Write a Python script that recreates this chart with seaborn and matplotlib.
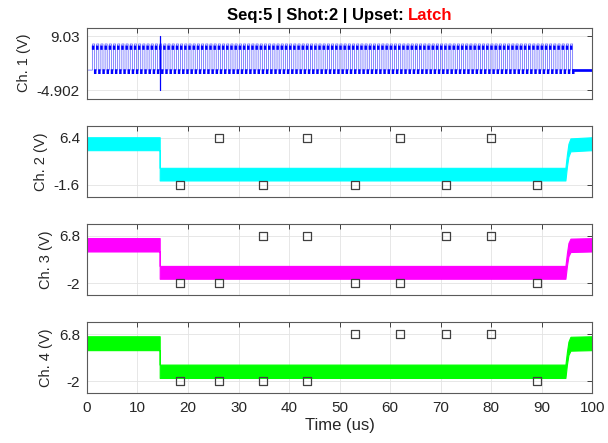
import numpy as np
import pandas as pd
import matplotlib
matplotlib.use("Agg")
import matplotlib.pyplot as plt
import seaborn as sns

# ---------------- data ----------------
time_ticks = [0, 10, 20, 30, 40, 50, 60, 70, 80, 90, 100]
channel_labels = ["Ch. 1 (V)", "Ch. 2 (V)", "Ch. 3 (V)", "Ch. 4 (V)"]
channel_colors = ["#0000ff", "#00ffff", "#ff00ff", "#00ff00"]
ytick_values = [[-4.902, 9.03], [-1.6, 6.4], [-2.0, 6.8], [-2.0, 6.8]]
ytick_labels = [["-4.902", "9.03"], ["-1.6", "6.4"], ["-2", "6.8"], ["-2", "6.8"]]

# Ch. 1 clock trace parameters
clk_start = 1.1        # first rising edge (us)
clk_period = 0.83      # us
clk_count = 115        # number of pulses
clk_high = 7.0         # top of each pulse
clk_low = 0.3          # bottom level
ring_high = [5.5, 6.6] # ringing blob just after each rising edge
ring_low = [-0.7, 0.5] # ringing blob just after each falling edge
spike_time = 14.4
spike_min = -4.902
spike_max = 9.03
ch1_tail_t = [96.1, 100.0]
ch1_tail_lo = [0.0, 0.0]
ch1_tail_hi = [0.7, 0.7]

# Ch. 2-4 noisy band envelopes (time, lower, upper)
band_t = [0.0, 14.4, 14.4, 94.7, 95.0, 95.3, 95.7, 100.0]
ch2_lo = [4.3, 4.3, -0.85, -0.85, 1.5, 3.2, 4.1, 4.3]
ch2_hi = [6.5, 6.5, 1.3, 1.3, 3.6, 5.4, 6.3, 6.5]
ch3_lo = [3.9, 3.9, -1.2, -1.2, 1.2, 3.0, 3.8, 3.9]
ch3_hi = [6.4, 6.4, 1.2, 1.2, 3.6, 5.5, 6.3, 6.4]
ch4_lo = [3.8, 3.8, -1.4, -1.4, 1.1, 2.9, 3.7, 3.8]
ch4_hi = [6.4, 6.4, 1.1, 1.1, 3.5, 5.4, 6.3, 6.4]

# sample markers: times and bit states (0 -> low tick level, 1 -> high tick level)
sample_times = [18.4, 26.2, 34.8, 43.6, 53.0, 62.0, 71.1, 80.0, 89.0]
ch2_bits = [0, 1, 0, 1, 0, 1, 0, 1, 0]
ch3_bits = [0, 0, 1, 1, 0, 0, 1, 1, 0]
ch4_bits = [0, 0, 0, 0, 1, 1, 1, 1, 0]

# ---------------- style ----------------
sns.set_style("white")
plt.rcParams["font.family"] = ["Liberation Sans", "DejaVu Sans"]
text_col = "#262626"

fig, axes = plt.subplots(4, 1, figsize=(6.08, 4.43), dpi=100, sharex=True)
fig.subplots_adjust(left=0.143, right=0.974, top=0.937, bottom=0.113, hspace=0.39)

# ---- Ch. 1: clock trace ----
xs, ys = [0.0], [clk_low]
rise_t, fall_t = [], []
for k in range(clk_count):
    t = clk_start + k * clk_period
    h = t + clk_period / 2
    rise_t.append(t)
    fall_t.append(h)
    xs += [t, t, h, h]
    ys += [clk_low, clk_high, clk_high, clk_low]
xs.append(clk_start + clk_count * clk_period)
ys.append(clk_low)
ch1_df = pd.DataFrame({"t": xs, "v": ys})
ax = axes[0]
sns.lineplot(data=ch1_df, x="t", y="v", ax=ax, sort=False, estimator=None,
             color="#5a5aff", lw=0.5, snap=False)
# ringing blobs after each edge
for t in rise_t:
    ax.plot([t + 0.12, t + 0.12], ring_high, color="#0000ff", lw=1.8,
            solid_capstyle="butt", snap=False)
for h in fall_t:
    ax.plot([h + 0.12, h + 0.12], ring_low, color="#0000ff", lw=1.8,
            solid_capstyle="butt", snap=False)
ax.plot([spike_time, spike_time], [spike_min, spike_max], color=channel_colors[0], lw=0.9)
ax.fill_between(ch1_tail_t, ch1_tail_lo, ch1_tail_hi, color=channel_colors[0], lw=0.5)

# ---- Ch. 2-4: bands + markers ----
bands = [(ch2_lo, ch2_hi), (ch3_lo, ch3_hi), (ch4_lo, ch4_hi)]
bits = [ch2_bits, ch3_bits, ch4_bits]
for i in range(1, 4):
    ax = axes[i]
    lo, hi = bands[i - 1]
    ax.fill_between(band_t, lo, hi, color=channel_colors[i], lw=0.8,
                    edgecolor=channel_colors[i])
    levels = [ytick_values[i][b] for b in bits[i - 1]]
    mk = pd.DataFrame({"t": sample_times, "v": levels})
    sns.scatterplot(data=mk, x="t", y="v", ax=ax, marker="s", s=32,
                    facecolors="none", edgecolors="#404040", linewidth=0.9, zorder=5)

# ---- axes formatting ----
for i, ax in enumerate(axes):
    lo, hi = ytick_values[i]
    marg = 0.15 if i == 0 else 0.25
    rng = hi - lo
    ax.set_ylim(lo - marg * rng, hi + marg * rng)
    ax.set_xlim(0, 100)
    ax.set_yticks(ytick_values[i])
    ax.set_yticklabels(ytick_labels[i])
    ax.set_xticks(time_ticks)
    ax.grid(True, color="#e3e3e3", lw=0.6)
    ax.set_axisbelow(True)
    ax.tick_params(direction="in", top=True, right=True, length=3.5, width=0.6,
                   colors=text_col, labelsize=11, pad=5)
    for s in ax.spines.values():
        s.set_color("#5a5a5a")
        s.set_linewidth(0.8)
    ax.set_ylabel(channel_labels[i], fontsize=10.5, color=text_col, labelpad=4)
    ax.set_xlabel("")
    if i < 3:
        ax.tick_params(labelbottom=False)

axes[3].set_xticklabels([str(t) for t in time_ticks])
axes[3].tick_params(axis="x", pad=6)
axes[3].set_xlabel("Time (us)", fontsize=12, color=text_col, labelpad=2)

# ---- two-colour title ----
fig.canvas.draw()
renderer = fig.canvas.get_renderer()
part1 = "Seq:5 | Shot:2 | Upset: "
part2 = "Latch"
t1 = fig.text(0, 0, part1, fontsize=12, fontweight="bold", color="black")
t2 = fig.text(0, 0, part2, fontsize=12, fontweight="bold", color="#ff0000")
w1 = t1.get_window_extent(renderer).width
w2 = t2.get_window_extent(renderer).width
bbox = axes[0].get_position()
cx = (bbox.x0 + bbox.x1) / 2 * fig.bbox.width
x0 = cx - (w1 + w2) / 2
ybase = (bbox.y1 * fig.bbox.height) + 8
t1.set_position((x0 / fig.bbox.width, ybase / fig.bbox.height))
t2.set_position(((x0 + w1) / fig.bbox.width, ybase / fig.bbox.height))

fig.savefig("out.png", dpi=100)
